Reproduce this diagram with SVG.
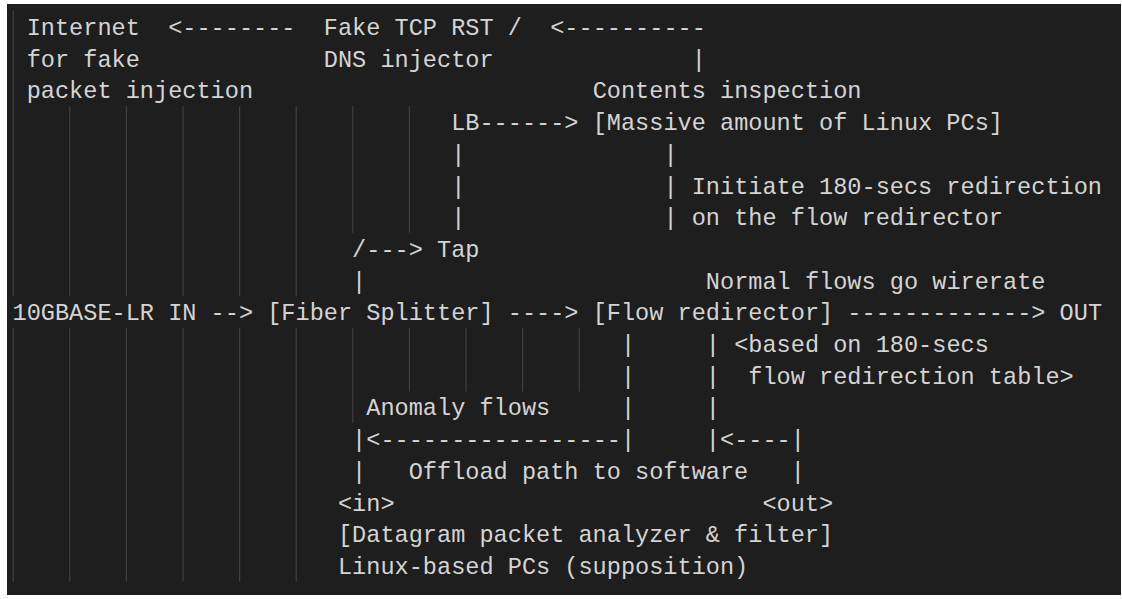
<svg xmlns="http://www.w3.org/2000/svg" width="1122" height="599" viewBox="0 0 1122 599">
  <style>
    text { font-family: "Liberation Mono", "DejaVu Sans Mono", monospace; font-size: 23.58px; fill: #d4d4d4; white-space: pre; }
    .guide { stroke: #404040; stroke-width: 1.2; }
  </style>
  <rect x="0" y="0" width="1122" height="599" fill="#ffffff"/>
  <rect x="7" y="4" width="1114" height="591" fill="#1e1e1e"/>

  <g id="indent-guides">
    <line class="guide" x1="13.2" y1="11" x2="13.2" y2="296.3"/>
    <line class="guide" x1="13.2" y1="328" x2="13.2" y2="581.6"/>
    <path class="guide" d="M69.8 106.1V296.3M126.4 106.1V296.3M183 106.1V296.3M239.6 106.1V296.3M296.2 106.1V296.3M352.8 106.1V232.8M409.4 106.1V232.8"/>
    <path class="guide" d="M69.8 328V581.6M126.4 328V581.6M183 328V581.6M239.6 328V581.6M296.2 328V581.6M352.8 328V423.1M409.4 328V391.4M466 328V391.4M522.6 328V391.4M579.2 328V391.4"/>
  </g>

  <g id="connectors">
    <text x="168.15" y="35">&lt;--------</text>
    <text x="550.2" y="35">&lt;----------</text>
    <text x="691.7" y="66.7">|</text>
    <text x="479.45" y="130.1">------&gt;</text>
    <text x="451.15" y="161.8">|</text>
    <text x="663.4" y="161.8">|</text>
    <text x="451.15" y="193.5">|</text>
    <text x="663.4" y="193.5">|</text>
    <text x="451.15" y="225.2">|</text>
    <text x="663.4" y="225.2">|</text>
    <text x="352.1" y="256.9">/---&gt;</text>
    <text x="352.1" y="288.6">|</text>
    <text x="210.6" y="320.3">--&gt;</text>
    <text x="507.75" y="320.3">----&gt;</text>
    <text x="847.35" y="320.3">-------------&gt;</text>
    <text x="620.95" y="352">|</text>
    <text x="705.85" y="352">|</text>
    <text x="620.95" y="383.7">|</text>
    <text x="705.85" y="383.7">|</text>
    <text x="620.95" y="415.4">|</text>
    <text x="705.85" y="415.4">|</text>
    <text x="352.1" y="447.1">|&lt;-----------------|</text>
    <text x="705.85" y="447.1">|&lt;----|</text>
    <text x="352.1" y="478.8">|</text>
    <text x="790.75" y="478.8">|</text>
  </g>

  <g id="internet">
    <text x="26.65" y="35">Internet</text>
    <text x="26.65" y="66.7">for fake</text>
    <text x="26.65" y="98.4">packet injection</text>
  </g>

  <g id="injector">
    <text x="323.8" y="35">Fake TCP RST /</text>
    <text x="323.8" y="66.7">DNS injector</text>
  </g>

  <g id="lb">
    <text x="451.15" y="130.1">LB</text>
  </g>

  <g id="linux-pcs">
    <text x="592.65" y="98.4">Contents inspection</text>
    <text x="592.65" y="130.1">[Massive amount of Linux PCs]</text>
  </g>

  <g id="redirection-label">
    <text x="691.7" y="193.5">Initiate 180-secs redirection</text>
    <text x="691.7" y="225.2">on the flow redirector</text>
  </g>

  <g id="tap">
    <text x="437" y="256.9">Tap</text>
  </g>

  <g id="normal-flows-label">
    <text x="705.85" y="288.6">Normal flows go wirerate</text>
  </g>

  <g id="input">
    <text x="12.5" y="320.3">10GBASE-LR IN</text>
  </g>

  <g id="fiber-splitter">
    <text x="267.2" y="320.3">[Fiber Splitter]</text>
  </g>

  <g id="flow-redirector">
    <text x="592.65" y="320.3">[Flow redirector]</text>
  </g>

  <g id="out">
    <text x="1059.6" y="320.3">OUT</text>
  </g>

  <g id="table-label">
    <text x="734.15" y="352">&lt;based on 180-secs</text>
    <text x="748.3" y="383.7">flow redirection table&gt;</text>
  </g>

  <g id="anomaly-label">
    <text x="366.25" y="415.4">Anomaly flows</text>
  </g>

  <g id="offload-label">
    <text x="408.7" y="478.8">Offload path to software</text>
  </g>

  <g id="analyzer">
    <text x="337.95" y="510.5">&lt;in&gt;</text>
    <text x="762.45" y="510.5">&lt;out&gt;</text>
    <text x="337.95" y="542.2">[Datagram packet analyzer &amp; filter]</text>
    <text x="337.95" y="573.9">Linux-based PCs (supposition)</text>
  </g>
</svg>
